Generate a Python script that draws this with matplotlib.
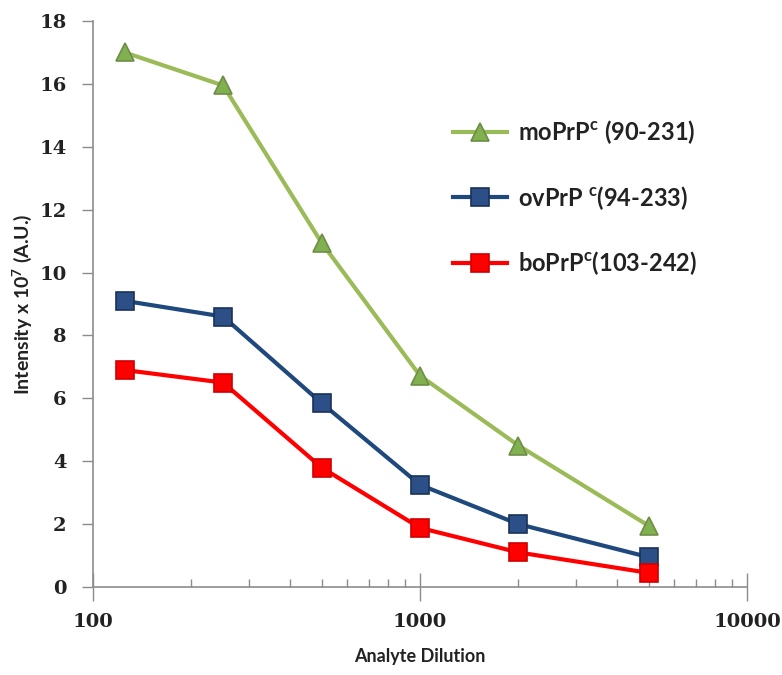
import matplotlib
matplotlib.use("Agg")
import matplotlib.pyplot as plt
from matplotlib.ticker import LogLocator, FixedLocator, NullFormatter

dilution = [125, 250, 500, 1000, 2000, 5000]
mo = [17.0, 15.95, 10.95, 6.72, 4.5, 1.95]
ov = [9.1, 8.6, 5.85, 3.25, 2.0, 0.95]
bo = [6.9, 6.5, 3.8, 1.88, 1.1, 0.45]
labels = ["moPrP$^{\\mathregular{c}}$ (90-231)",
          "ovPrP $^{\\mathregular{c}}$(94-233)",
          "boPrP$^{\\mathregular{c}}$(103-242)"]
xticks = [100, 1000, 10000]
yticks = [0, 2, 4, 6, 8, 10, 12, 14, 16, 18]

fig = plt.figure(figsize=(7.82, 6.75), dpi=100)
ax = fig.add_axes([93 / 782, 88 / 675, 654 / 782, 566 / 675])

ax.plot(dilution, mo, color="#9BBB59", lw=3, marker="^", ms=13.5,
        mfc="#80B050", mec="#6E8E48", mew=1.2, label=labels[0], clip_on=False)
ax.plot(dilution, ov, color="#1F497D", lw=3, marker="s", ms=12.5,
        mfc="#2B4F86", mec="#1A3358", mew=1.2, label=labels[1], clip_on=False)
ax.plot(dilution, bo, color="#FF0000", lw=3, marker="s", ms=12.5,
        mfc="#FF0000", mec="#D00000", mew=1.2, label=labels[2], clip_on=False)

ax.set_xscale("log")
ax.set_xlim(100, 10000)
ax.set_ylim(0, 18)
ax.xaxis.set_major_locator(FixedLocator(xticks))
ax.set_xticklabels([str(t) for t in xticks])
ax.xaxis.set_minor_locator(LogLocator(base=10, subs=range(2, 10)))
ax.xaxis.set_minor_formatter(NullFormatter())
ax.set_yticks(yticks)
ax.set_yticklabels([str(t) for t in yticks])

for s in ["top", "right"]:
    ax.spines[s].set_visible(False)
for s in ["left", "bottom"]:
    ax.spines[s].set_color("#8C8C8C")
    ax.spines[s].set_linewidth(1.2)

ax.tick_params(axis="y", which="major", direction="out", length=8, color="#8C8C8C", width=1, pad=11)
ax.tick_params(axis="x", which="major", direction="inout", length=20, color="#8C8C8C", width=1, pad=9)
ax.tick_params(axis="x", which="minor", direction="in", length=6, color="#8C8C8C", width=1)

for lab in ax.get_xticklabels() + ax.get_yticklabels():
    lab.set_fontfamily("DejaVu Serif")
    lab.set_fontweight("bold")
    lab.set_fontsize(14)
    lab.set_color("#222222")

ax.set_xlabel("Analyte Dilution", fontsize=13, family="Lato", fontweight="bold",
              color="#222222", labelpad=12)
ax.set_ylabel("Intensity x 10$^{\\mathregular{7}}$ (A.U.)", fontsize=14, family="Lato",
              fontweight="bold", color="#222222", labelpad=4)

leg = ax.legend(loc="upper left", bbox_to_anchor=(0.518, 0.866), frameon=False,
                labelspacing=1.6, handlelength=2.3, handletextpad=0.45,
                prop={"family": "Lato", "size": 17, "weight": "bold"})
for t in leg.get_texts():
    t.set_color("#222222")

fig.savefig("out.png", dpi=100)
